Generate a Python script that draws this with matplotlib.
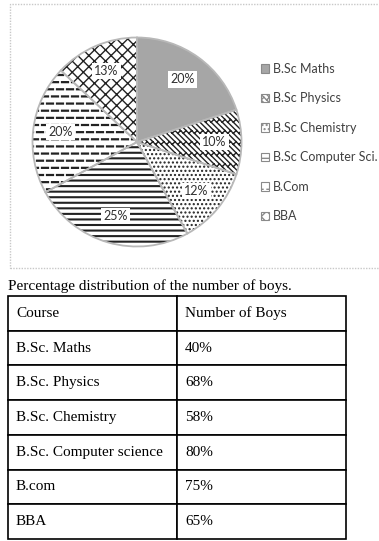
import numpy as np
import matplotlib
matplotlib.use("Agg")
import matplotlib.pyplot as plt
import matplotlib.hatch as mhatch
from matplotlib.path import Path
from matplotlib.patches import Rectangle

courses = ["B.Sc Maths", "B.Sc Physics", "B.Sc Chemistry",
           "B.Sc Computer Sci.", "B.Com", "BBA"]
shares = [20, 10, 12, 25, 20, 13]

table_courses = ["B.Sc. Maths", "B.Sc. Physics", "B.Sc. Chemistry",
                 "B.Sc. Computer science", "B.com", "BBA"]
boys_pct = ["40%", "68%", "58%", "80%", "75%", "65%"]
table_header = ["Course", "Number of Boys"]
caption = "Percentage distribution of the number of boys."


# two extra hatch styles: staggered dashes ('O') and diagonal bricks ('*')
class DashHatch(mhatch.HatchPatternBase):
    def __init__(self, hatch, density):
        self.rows = hatch.count('O') * 14
        self.per_row = 11
        self.num_vertices = self.rows * self.per_row * 2

    def set_vertices_and_codes(self, vertices, codes):
        i = 0
        for r in range(self.rows):
            y = (r + 0.5) / self.rows
            off = 0.05 if r % 2 == 0 else 0.0
            for k in range(self.per_row):
                c = k / 10 + off
                vertices[i] = (c - 0.03, y)
                vertices[i + 1] = (c + 0.03, y)
                codes[i] = Path.MOVETO
                codes[i + 1] = Path.LINETO
                i += 2


class BrickHatch(mhatch.HatchPatternBase):
    def __init__(self, hatch, density):
        self.n = 18 if '*' in hatch else 0
        self.m = 9
        nl = 2 * self.n + 2
        self.num_vertices = (nl * 2 + nl * (self.m + 2) * 2) if self.n else 0

    def set_vertices_and_codes(self, vertices, codes):
        n, m = self.n, self.m
        i = 0
        for k in range(-1, 2 * n + 1):
            c = k / n
            vertices[i] = (c - 1.5, 1.5)
            vertices[i + 1] = (c + 1.5, -1.5)
            codes[i] = Path.MOVETO
            codes[i + 1] = Path.LINETO
            i += 2
        d = 1 / (2 * n)
        for k in range(-1, 2 * n + 1):
            c = k / n
            off = 0.5 / m if k % 2 else 0.0
            for j in range(-1, m + 1):
                t = j / m + off
                vertices[i] = (t, c - t)
                vertices[i + 1] = (t + d, c - t + d)
                codes[i] = Path.MOVETO
                codes[i + 1] = Path.LINETO
                i += 2


mhatch._hatch_types = [h for h in mhatch._hatch_types
                       if h not in (mhatch.LargeCircles, mhatch.Stars)]
mhatch._hatch_types += [DashHatch, BrickHatch]

plt.rcParams['hatch.linewidth'] = 1.0

W, H = 379, 541
fig = plt.figure(figsize=(W / 100, H / 100), dpi=100)

# dotted chart frame
fig.patches.append(Rectangle((10 / W, 1 - 268 / H), 1.0, (268 - 4) / H,
                             transform=fig.transFigure, fill=False,
                             edgecolor='#c8c8c8', linestyle=(0, (1, 1)),
                             linewidth=1))

cx, cy, r = 137, 142, 104.5
ax = fig.add_axes([(cx - r) / W, 1 - (cy + r) / H, 2 * r / W, 2 * r / H])
colors = ['#a6a6a6', 'white', 'white', 'white', 'white', 'white']
hatches = ['', '*', '....', '---', 'O', 'xxx']
hatch_lw = [1.0, 1.0, 1.0, 1.5, 1.6, 1.0]
wedges, texts, autotexts = ax.pie(
    shares, startangle=90, counterclock=False, colors=colors,
    autopct='%.0f%%', pctdistance=0.74,
    wedgeprops=dict(linewidth=0, edgecolor='#222222'),
    textprops=dict(family='Lato', fontsize=9, color='#303030'))
for w, h, lw in zip(wedges, hatches, hatch_lw):
    w.set_hatch(h)
    if hasattr(w, 'set_hatch_linewidth'):
        w.set_hatch_linewidth(lw)
for t in autotexts:
    t.set_bbox(dict(facecolor='white', edgecolor='none', pad=1.5))
ax.pie(shares, startangle=90, counterclock=False,
       colors=['none'] * len(shares),
       wedgeprops=dict(linewidth=1.3, edgecolor='#b8b8b8', fill=False))
ax.set_xlim(-1, 1)
ax.set_ylim(-1, 1)
ax.set_aspect('auto')

leg = fig.legend(wedges, courses, loc='center left',
                 bbox_to_anchor=(261 / W, 1 - 142.5 / H),
                 frameon=False, borderpad=0, borderaxespad=0,
                 handlelength=0.65, handleheight=0.65, handletextpad=0.3,
                 labelspacing=1.4,
                 prop=dict(family='Lato', size=9))
for t in leg.get_texts():
    t.set_color('#404040')
for hnd in leg.legend_handles:
    hnd.set_edgecolor('#8a8a8a')
    hnd.set_linewidth(0.8)

fig.text(8 / W, 1 - 286 / H, caption, family='Liberation Serif',
         fontsize=11, va='center', ha='left')

tax = fig.add_axes([8 / W, 1 - 539 / H, 338 / W, 243 / H])
tax.axis('off')
rows = [table_header] + [[c, p] for c, p in zip(table_courses, boys_pct)]
tbl = tax.table(cellText=rows, bbox=[0, 0, 1, 1], cellLoc='left')
tbl.auto_set_font_size(False)
for (ri, ci), cell in tbl.get_celld().items():
    cell.PAD = 8 / 169
    cell.set_linewidth(1.2)
    cell.set_edgecolor('black')
    cell.get_text().set_fontfamily('Liberation Serif')
    cell.get_text().set_fontsize(11)

fig.savefig('out.png', dpi=100, facecolor='white')
